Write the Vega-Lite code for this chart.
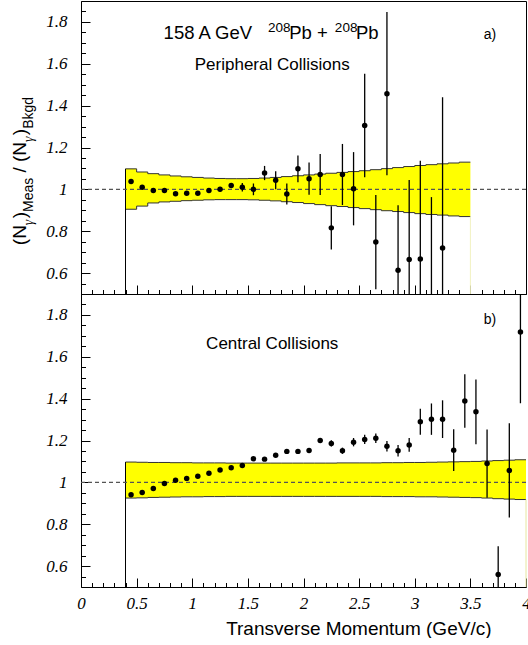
{
  "$schema": "https://vega.github.io/schema/vega-lite/v6.json",
  "background": "white",
  "padding": {"left": 10, "top": 0, "right": 0, "bottom": 0},
  "spacing": 0,
  "bounds": "flush",
  "config": {
    "view": {"stroke": "black", "strokeWidth": 1},
    "axis": {"domainColor": "black", "domainWidth": 1, "tickColor": "black", "tickWidth": 1, "labelColor": "black", "labelFont": "Liberation Serif", "labelFontStyle": "italic", "labelFontSize": 17, "grid": false, "labelOverlap": false, "labelFlush": false, "labelBound": false},
    "text": {"font": "Liberation Sans", "color": "black"}
  },
  "datasets": {
    "bandA": [
      {"pt": 0.4, "hi": 1.098, "lo": 0.905}, {"pt": 0.5, "hi": 1.083, "lo": 0.92}, {"pt": 0.6, "hi": 1.075, "lo": 0.935}, {"pt": 0.7, "hi": 1.069, "lo": 0.94}, {"pt": 0.8, "hi": 1.064, "lo": 0.943}, {"pt": 0.9, "hi": 1.06, "lo": 0.946}, {"pt": 1.0, "hi": 1.057, "lo": 0.948}, {"pt": 1.1, "hi": 1.054, "lo": 0.95}, {"pt": 1.2, "hi": 1.052, "lo": 0.951}, {"pt": 1.3, "hi": 1.051, "lo": 0.951}, {"pt": 1.4, "hi": 1.051, "lo": 0.951}, {"pt": 1.5, "hi": 1.052, "lo": 0.95}, {"pt": 1.6, "hi": 1.054, "lo": 0.948}, {"pt": 1.7, "hi": 1.057, "lo": 0.945}, {"pt": 1.8, "hi": 1.061, "lo": 0.941}, {"pt": 1.9, "hi": 1.065, "lo": 0.937}, {"pt": 2.0, "hi": 1.069, "lo": 0.932}, {"pt": 2.1, "hi": 1.073, "lo": 0.927}, {"pt": 2.2, "hi": 1.077, "lo": 0.922}, {"pt": 2.3, "hi": 1.081, "lo": 0.918}, {"pt": 2.4, "hi": 1.085, "lo": 0.913}, {"pt": 2.5, "hi": 1.089, "lo": 0.908}, {"pt": 2.6, "hi": 1.094, "lo": 0.903}, {"pt": 2.7, "hi": 1.099, "lo": 0.898}, {"pt": 2.8, "hi": 1.104, "lo": 0.894}, {"pt": 2.9, "hi": 1.109, "lo": 0.889}, {"pt": 3.0, "hi": 1.114, "lo": 0.884}, {"pt": 3.1, "hi": 1.118, "lo": 0.88}, {"pt": 3.2, "hi": 1.122, "lo": 0.877}, {"pt": 3.3, "hi": 1.126, "lo": 0.873}, {"pt": 3.4, "hi": 1.13, "lo": 0.87}, {"pt": 3.5, "hi": 1.13, "lo": 0.87}
    ],
    "bandB": [
      {"pt": 0.4, "hi": 1.097, "lo": 0.925}, {"pt": 0.5, "hi": 1.096, "lo": 0.926}, {"pt": 0.6, "hi": 1.095, "lo": 0.928}, {"pt": 0.7, "hi": 1.095, "lo": 0.929}, {"pt": 0.8, "hi": 1.094, "lo": 0.93}, {"pt": 0.9, "hi": 1.094, "lo": 0.931}, {"pt": 1.0, "hi": 1.093, "lo": 0.931}, {"pt": 1.1, "hi": 1.093, "lo": 0.932}, {"pt": 1.2, "hi": 1.093, "lo": 0.932}, {"pt": 1.3, "hi": 1.092, "lo": 0.933}, {"pt": 1.4, "hi": 1.092, "lo": 0.933}, {"pt": 1.5, "hi": 1.092, "lo": 0.933}, {"pt": 1.6, "hi": 1.092, "lo": 0.933}, {"pt": 1.7, "hi": 1.092, "lo": 0.933}, {"pt": 1.8, "hi": 1.092, "lo": 0.933}, {"pt": 1.9, "hi": 1.092, "lo": 0.933}, {"pt": 2.0, "hi": 1.092, "lo": 0.933}, {"pt": 2.1, "hi": 1.092, "lo": 0.933}, {"pt": 2.2, "hi": 1.092, "lo": 0.933}, {"pt": 2.3, "hi": 1.093, "lo": 0.933}, {"pt": 2.4, "hi": 1.093, "lo": 0.933}, {"pt": 2.5, "hi": 1.093, "lo": 0.933}, {"pt": 2.6, "hi": 1.093, "lo": 0.933}, {"pt": 2.7, "hi": 1.094, "lo": 0.932}, {"pt": 2.8, "hi": 1.094, "lo": 0.932}, {"pt": 2.9, "hi": 1.095, "lo": 0.932}, {"pt": 3.0, "hi": 1.095, "lo": 0.931}, {"pt": 3.1, "hi": 1.096, "lo": 0.931}, {"pt": 3.2, "hi": 1.097, "lo": 0.93}, {"pt": 3.3, "hi": 1.098, "lo": 0.929}, {"pt": 3.4, "hi": 1.099, "lo": 0.928}, {"pt": 3.5, "hi": 1.1, "lo": 0.927}, {"pt": 3.6, "hi": 1.102, "lo": 0.925}, {"pt": 3.7, "hi": 1.104, "lo": 0.922}, {"pt": 3.8, "hi": 1.106, "lo": 0.92}, {"pt": 3.9, "hi": 1.108, "lo": 0.918}, {"pt": 4.0, "hi": 1.108, "lo": 0.918}
    ],
    "ptsA": [
      {"pt": 0.45, "r": 1.038, "lo": 1.03, "hi": 1.046}, {"pt": 0.55, "r": 1.01, "lo": 1.002, "hi": 1.018}, {"pt": 0.65, "r": 0.995, "lo": 0.987, "hi": 1.003}, {"pt": 0.75, "r": 0.995, "lo": 0.987, "hi": 1.003}, {"pt": 0.85, "r": 0.979, "lo": 0.971, "hi": 0.987}, {"pt": 0.95, "r": 0.981, "lo": 0.973, "hi": 0.989}, {"pt": 1.05, "r": 0.981, "lo": 0.973, "hi": 0.989}, {"pt": 1.15, "r": 0.995, "lo": 0.985, "hi": 1.005}, {"pt": 1.25, "r": 1.0, "lo": 0.99, "hi": 1.01}, {"pt": 1.35, "r": 1.018, "lo": 1.006, "hi": 1.03}, {"pt": 1.45, "r": 1.01, "lo": 0.99, "hi": 1.03}, {"pt": 1.55, "r": 1.0, "lo": 0.972, "hi": 1.028}, {"pt": 1.65, "r": 1.078, "lo": 1.044, "hi": 1.112}, {"pt": 1.75, "r": 1.043, "lo": 1.0, "hi": 1.086}, {"pt": 1.85, "r": 0.978, "lo": 0.928, "hi": 1.028}, {"pt": 1.95, "r": 1.098, "lo": 1.034, "hi": 1.162}, {"pt": 2.05, "r": 1.051, "lo": 0.974, "hi": 1.128}, {"pt": 2.15, "r": 1.071, "lo": 0.973, "hi": 1.169}, {"pt": 2.25, "r": 0.816, "lo": 0.713, "hi": 0.919}, {"pt": 2.35, "r": 1.071, "lo": 0.925, "hi": 1.217}, {"pt": 2.45, "r": 1.003, "lo": 0.828, "hi": 1.178}, {"pt": 2.55, "r": 1.305, "lo": 1.058, "hi": 1.552}, {"pt": 2.65, "r": 0.748, "lo": 0.523, "hi": 0.973}, {"pt": 2.75, "r": 1.457, "lo": 1.067, "hi": 1.847}, {"pt": 2.85, "r": 0.614, "lo": 0.304, "hi": 0.924}, {"pt": 2.95, "r": 0.665, "lo": 0.285, "hi": 1.045}, {"pt": 3.05, "r": 0.667, "lo": 0.197, "hi": 1.137}, {"pt": 3.15, "r": 0.42, "lo": 0.0, "hi": 0.963}, {"pt": 3.25, "r": 0.72, "lo": 0.0, "hi": 1.44}
    ],
    "ptsB": [
      {"pt": 0.45, "r": 0.941, "lo": 0.935, "hi": 0.947}, {"pt": 0.55, "r": 0.951, "lo": 0.945, "hi": 0.957}, {"pt": 0.65, "r": 0.971, "lo": 0.965, "hi": 0.977}, {"pt": 0.75, "r": 0.994, "lo": 0.988, "hi": 1.0}, {"pt": 0.85, "r": 1.01, "lo": 1.004, "hi": 1.016}, {"pt": 0.95, "r": 1.019, "lo": 1.013, "hi": 1.025}, {"pt": 1.05, "r": 1.029, "lo": 1.023, "hi": 1.035}, {"pt": 1.15, "r": 1.043, "lo": 1.037, "hi": 1.049}, {"pt": 1.25, "r": 1.059, "lo": 1.053, "hi": 1.065}, {"pt": 1.35, "r": 1.07, "lo": 1.064, "hi": 1.076}, {"pt": 1.45, "r": 1.081, "lo": 1.075, "hi": 1.087}, {"pt": 1.55, "r": 1.113, "lo": 1.106, "hi": 1.12}, {"pt": 1.65, "r": 1.111, "lo": 1.104, "hi": 1.118}, {"pt": 1.75, "r": 1.129, "lo": 1.122, "hi": 1.136}, {"pt": 1.85, "r": 1.148, "lo": 1.14, "hi": 1.156}, {"pt": 1.95, "r": 1.148, "lo": 1.138, "hi": 1.158}, {"pt": 2.05, "r": 1.152, "lo": 1.142, "hi": 1.162}, {"pt": 2.15, "r": 1.2, "lo": 1.188, "hi": 1.212}, {"pt": 2.25, "r": 1.186, "lo": 1.171, "hi": 1.201}, {"pt": 2.35, "r": 1.151, "lo": 1.136, "hi": 1.166}, {"pt": 2.45, "r": 1.192, "lo": 1.172, "hi": 1.212}, {"pt": 2.55, "r": 1.205, "lo": 1.183, "hi": 1.227}, {"pt": 2.65, "r": 1.211, "lo": 1.188, "hi": 1.234}, {"pt": 2.75, "r": 1.173, "lo": 1.148, "hi": 1.198}, {"pt": 2.85, "r": 1.151, "lo": 1.123, "hi": 1.179}, {"pt": 2.95, "r": 1.179, "lo": 1.146, "hi": 1.212}, {"pt": 3.05, "r": 1.29, "lo": 1.228, "hi": 1.352}, {"pt": 3.15, "r": 1.302, "lo": 1.227, "hi": 1.377}, {"pt": 3.25, "r": 1.302, "lo": 1.212, "hi": 1.392}, {"pt": 3.35, "r": 1.154, "lo": 1.054, "hi": 1.254}, {"pt": 3.45, "r": 1.389, "lo": 1.261, "hi": 1.517}, {"pt": 3.55, "r": 1.337, "lo": 1.182, "hi": 1.492}, {"pt": 3.65, "r": 1.09, "lo": 0.927, "hi": 1.253}, {"pt": 3.75, "r": 0.56, "lo": 0.425, "hi": 0.695}, {"pt": 3.85, "r": 1.057, "lo": 0.832, "hi": 1.282}, {"pt": 3.95, "r": 1.718, "lo": 1.378, "hi": 2.058}
    ],
    "one": [{}]
  },
  "vconcat": [
    {
      "width": 445,
      "height": 293,
      "resolve": {"axis": {"x": "independent", "y": "independent"}},
      "layer": [
        {
          "data": {"name": "bandA"},
          "mark": {"type": "area", "interpolate": "step-after", "color": "#ffff00"},
          "encoding": {
            "x": {"field": "pt", "type": "quantitative", "scale": {"domain": [0, 4], "nice": false, "zero": false},
              "axis": {"orient": "bottom", "values": [0,0.5,1,1.5,2,2.5,3,3.5,4], "tickSize": -9, "labels": false, "title": null}},
            "y": {"field": "hi", "type": "quantitative", "scale": {"domain": [0.5, 1.9], "nice": false, "zero": false},
              "axis": {"orient": "left", "values": [0.6,0.8,1,1.2,1.4,1.6,1.8], "tickSize": -9, "format": "~g", "labelPadding": 23, "title": null}},
            "y2": {"field": "lo"}
          }
        },
        {"data": {"name": "bandA"}, "mark": {"type": "line", "interpolate": "step-after", "color": "#333333", "strokeWidth": 1},
         "encoding": {
           "x": {"field": "pt", "type": "quantitative", "axis": {"orient": "bottom", "values": [0.1,0.2,0.3,0.4,0.6,0.7,0.8,0.9,1.1,1.2,1.3,1.4,1.6,1.7,1.8,1.9,2.1,2.2,2.3,2.4,2.6,2.7,2.8,2.9,3.1,3.2,3.3,3.4,3.6,3.7,3.8,3.9], "tickSize": -4.5, "labels": false, "domain": false, "title": null}},
           "y": {"field": "hi", "type": "quantitative", "axis": {"orient": "left", "values": [0.55,0.65,0.7,0.75,0.85,0.9,0.95,1.05,1.1,1.15,1.25,1.3,1.35,1.45,1.5,1.55,1.65,1.7,1.75,1.85], "tickSize": -4.5, "labels": false, "domain": false, "title": null}}}},
        {"data": {"name": "bandA"}, "mark": {"type": "line", "interpolate": "step-after", "color": "#333333", "strokeWidth": 1},
         "encoding": {"x": {"field": "pt", "type": "quantitative", "axis": null}, "y": {"field": "lo", "type": "quantitative", "axis": null}}},
        {"data": {"name": "one"}, "mark": {"type": "rule", "color": "black", "strokeWidth": 1},
         "encoding": {"x": {"datum": 0.4, "type": "quantitative", "axis": null}, "y": {"datum": 0.5, "type": "quantitative", "axis": null}, "y2": {"datum": 1.098}}},
        {"data": {"name": "one"}, "mark": {"type": "rule", "color": "#f2f2c0", "strokeWidth": 1},
         "encoding": {"x": {"datum": 3.5, "type": "quantitative", "axis": null}, "y": {"datum": 0.5, "type": "quantitative", "axis": null}, "y2": {"datum": 0.87}}},
        {"data": {"name": "one"}, "mark": {"type": "rule", "color": "#555555", "strokeWidth": 1.2, "strokeDash": [4, 3]},
         "encoding": {"x": {"datum": 0, "type": "quantitative", "axis": null}, "x2": {"datum": 4}, "y": {"datum": 1, "type": "quantitative", "axis": null}}},
        {"data": {"name": "ptsA"}, "mark": {"type": "rule", "color": "black", "strokeWidth": 1.3, "clip": true},
         "encoding": {"x": {"field": "pt", "type": "quantitative", "axis": null}, "y": {"field": "lo", "type": "quantitative", "axis": null}, "y2": {"field": "hi"}}},
        {"data": {"name": "ptsA"}, "mark": {"type": "circle", "color": "black", "opacity": 1, "size": 30, "clip": true},
         "encoding": {"x": {"field": "pt", "type": "quantitative", "axis": null}, "y": {"field": "r", "type": "quantitative", "axis": null}}},
        {"data": {"name": "one"}, "mark": {"type": "text", "text": "158 A GeV", "fontSize": 18.5, "align": "left", "baseline": "alphabetic"},
         "encoding": {"x": {"datum": 0.7426, "type": "quantitative", "axis": null}, "y": {"datum": 1.7176, "type": "quantitative", "axis": null}}},
        {"data": {"name": "one"}, "mark": {"type": "text", "text": "208", "fontSize": 13.5, "align": "left", "baseline": "alphabetic"},
         "encoding": {"x": {"datum": 1.681, "type": "quantitative", "axis": null}, "y": {"datum": 1.754, "type": "quantitative", "axis": null}}},
        {"data": {"name": "one"}, "mark": {"type": "text", "text": "Pb +", "fontSize": 18.5, "align": "left", "baseline": "alphabetic"},
         "encoding": {"x": {"datum": 1.872, "type": "quantitative", "axis": null}, "y": {"datum": 1.7176, "type": "quantitative", "axis": null}}},
        {"data": {"name": "one"}, "mark": {"type": "text", "text": "208", "fontSize": 13.5, "align": "left", "baseline": "alphabetic"},
         "encoding": {"x": {"datum": 2.282, "type": "quantitative", "axis": null}, "y": {"datum": 1.754, "type": "quantitative", "axis": null}}},
        {"data": {"name": "one"}, "mark": {"type": "text", "text": "Pb", "fontSize": 18.5, "align": "left", "baseline": "alphabetic"},
         "encoding": {"x": {"datum": 2.471, "type": "quantitative", "axis": null}, "y": {"datum": 1.7176, "type": "quantitative", "axis": null}}},
        {"data": {"name": "one"}, "mark": {"type": "text", "text": "Peripheral Collisions", "fontSize": 17, "align": "center", "baseline": "alphabetic"},
         "encoding": {"x": {"datum": 1.719, "type": "quantitative", "axis": null}, "y": {"datum": 1.57, "type": "quantitative", "axis": null}}},
        {"data": {"name": "one"}, "mark": {"type": "text", "text": "a)", "fontSize": 14, "align": "left", "baseline": "alphabetic"},
         "encoding": {"x": {"datum": 3.621, "type": "quantitative", "axis": null}, "y": {"datum": 1.7176, "type": "quantitative", "axis": null}}},
        {"data": {"name": "one"}, "mark": {"type": "text", "text": "(N", "fontSize": 19, "angle": 270, "align": "left", "baseline": "alphabetic"},
         "encoding": {"x": {"datum": -0.4904, "type": "quantitative", "axis": null}, "y": {"datum": 0.7333, "type": "quantitative", "axis": null}}},
        {"data": {"name": "one"}, "mark": {"type": "text", "text": "γ", "font": "Liberation Serif", "fontStyle": "italic", "fontSize": 14, "angle": 270, "align": "left", "baseline": "alphabetic"},
         "encoding": {"x": {"datum": -0.4274, "type": "quantitative", "axis": null}, "y": {"datum": 0.8286, "type": "quantitative", "axis": null}}},
        {"data": {"name": "one"}, "mark": {"type": "text", "text": ")", "fontSize": 19, "angle": 270, "align": "left", "baseline": "alphabetic"},
         "encoding": {"x": {"datum": -0.4904, "type": "quantitative", "axis": null}, "y": {"datum": 0.8619, "type": "quantitative", "axis": null}}},
        {"data": {"name": "one"}, "mark": {"type": "text", "text": "Meas", "fontSize": 14, "angle": 270, "align": "left", "baseline": "alphabetic"},
         "encoding": {"x": {"datum": -0.4274, "type": "quantitative", "axis": null}, "y": {"datum": 0.8919, "type": "quantitative", "axis": null}}},
        {"data": {"name": "one"}, "mark": {"type": "text", "text": "/ (N", "fontSize": 19, "angle": 270, "align": "left", "baseline": "alphabetic"},
         "encoding": {"x": {"datum": -0.4904, "type": "quantitative", "axis": null}, "y": {"datum": 1.08, "type": "quantitative", "axis": null}}},
        {"data": {"name": "one"}, "mark": {"type": "text", "text": "γ", "font": "Liberation Serif", "fontStyle": "italic", "fontSize": 14, "angle": 270, "align": "left", "baseline": "alphabetic"},
         "encoding": {"x": {"datum": -0.4274, "type": "quantitative", "axis": null}, "y": {"datum": 1.2257, "type": "quantitative", "axis": null}}},
        {"data": {"name": "one"}, "mark": {"type": "text", "text": ")", "fontSize": 19, "angle": 270, "align": "left", "baseline": "alphabetic"},
         "encoding": {"x": {"datum": -0.4904, "type": "quantitative", "axis": null}, "y": {"datum": 1.259, "type": "quantitative", "axis": null}}},
        {"data": {"name": "one"}, "mark": {"type": "text", "text": "Bkgd", "fontSize": 14, "angle": 270, "align": "left", "baseline": "alphabetic"},
         "encoding": {"x": {"datum": -0.4274, "type": "quantitative", "axis": null}, "y": {"datum": 1.289, "type": "quantitative", "axis": null}}}
      ]
    },
    {
      "width": 445,
      "height": 293,
      "view": {"stroke": null},
      "resolve": {"axis": {"x": "independent", "y": "independent"}},
      "layer": [
        {
          "data": {"name": "bandB"},
          "mark": {"type": "area", "interpolate": "step-after", "color": "#ffff00"},
          "encoding": {
            "x": {"field": "pt", "type": "quantitative", "scale": {"domain": [0, 4], "nice": false, "zero": false},
              "axis": {"orient": "bottom", "values": [0,0.5,1,1.5,2,2.5,3,3.5,4], "tickSize": -9, "format": "~g", "labelPadding": 17, "labelBaseline": "top",
                "title": "Transverse Momentum (GeV/c)", "titleFont": "Liberation Sans", "titleFontSize": 19, "titleFontWeight": "normal", "titleColor": "black",
                "titleX": 410, "titleY": 47, "titleAlign": "right", "titleBaseline": "alphabetic"}},
            "y": {"field": "hi", "type": "quantitative", "scale": {"domain": [0.5, 1.9], "nice": false, "zero": false},
              "axis": {"orient": "left", "values": [0.6,0.8,1,1.2,1.4,1.6,1.8], "tickSize": -9, "format": "~g", "labelPadding": 23, "title": null}},
            "y2": {"field": "lo"}
          }
        },
        {"data": {"name": "bandB"}, "mark": {"type": "line", "interpolate": "step-after", "color": "#333333", "strokeWidth": 1},
         "encoding": {
           "x": {"field": "pt", "type": "quantitative", "axis": {"orient": "bottom", "values": [0.1,0.2,0.3,0.4,0.6,0.7,0.8,0.9,1.1,1.2,1.3,1.4,1.6,1.7,1.8,1.9,2.1,2.2,2.3,2.4,2.6,2.7,2.8,2.9,3.1,3.2,3.3,3.4,3.6,3.7,3.8,3.9], "tickSize": -4.5, "labels": false, "domain": false, "title": null}},
           "y": {"field": "hi", "type": "quantitative", "axis": {"orient": "left", "values": [0.55,0.65,0.7,0.75,0.85,0.9,0.95,1.05,1.1,1.15,1.25,1.3,1.35,1.45,1.5,1.55,1.65,1.7,1.75,1.85], "tickSize": -4.5, "labels": false, "domain": false, "title": null}}}},
        {"data": {"name": "bandB"}, "mark": {"type": "line", "interpolate": "step-after", "color": "#333333", "strokeWidth": 1},
         "encoding": {"x": {"field": "pt", "type": "quantitative", "axis": null}, "y": {"field": "lo", "type": "quantitative", "axis": null}}},
        {"data": {"name": "one"}, "mark": {"type": "rule", "color": "black", "strokeWidth": 1},
         "encoding": {"x": {"datum": 0.4, "type": "quantitative", "axis": null}, "y": {"datum": 0.5, "type": "quantitative", "axis": null}, "y2": {"datum": 1.097}}},
        {"data": {"name": "one"}, "mark": {"type": "rule", "color": "#e6e6a0", "strokeWidth": 1},
         "encoding": {"x": {"datum": 4, "type": "quantitative", "axis": null}, "y": {"datum": 0.5, "type": "quantitative", "axis": null}, "y2": {"datum": 0.918}}},
        {"data": {"name": "one"}, "mark": {"type": "rule", "color": "#555555", "strokeWidth": 1.2, "strokeDash": [4, 3]},
         "encoding": {"x": {"datum": 0, "type": "quantitative", "axis": null}, "x2": {"datum": 4}, "y": {"datum": 1, "type": "quantitative", "axis": null}}},
        {"data": {"name": "ptsB"}, "mark": {"type": "rule", "color": "black", "strokeWidth": 1.3, "clip": true},
         "encoding": {"x": {"field": "pt", "type": "quantitative", "axis": null}, "y": {"field": "lo", "type": "quantitative", "axis": null}, "y2": {"field": "hi"}}},
        {"data": {"name": "ptsB"}, "mark": {"type": "circle", "color": "black", "opacity": 1, "size": 30, "clip": true},
         "encoding": {"x": {"field": "pt", "type": "quantitative", "axis": null}, "y": {"field": "r", "type": "quantitative", "axis": null}}},
        {"data": {"name": "one"}, "mark": {"type": "text", "text": "Central Collisions", "fontSize": 17, "align": "center", "baseline": "alphabetic"},
         "encoding": {"x": {"datum": 1.719, "type": "quantitative", "axis": null}, "y": {"datum": 1.6395, "type": "quantitative", "axis": null}}},
        {"data": {"name": "one"}, "mark": {"type": "text", "text": "b)", "fontSize": 14, "align": "left", "baseline": "alphabetic"},
         "encoding": {"x": {"datum": 3.621, "type": "quantitative", "axis": null}, "y": {"datum": 1.7557, "type": "quantitative", "axis": null}}}
      ]
    }
  ]
}
